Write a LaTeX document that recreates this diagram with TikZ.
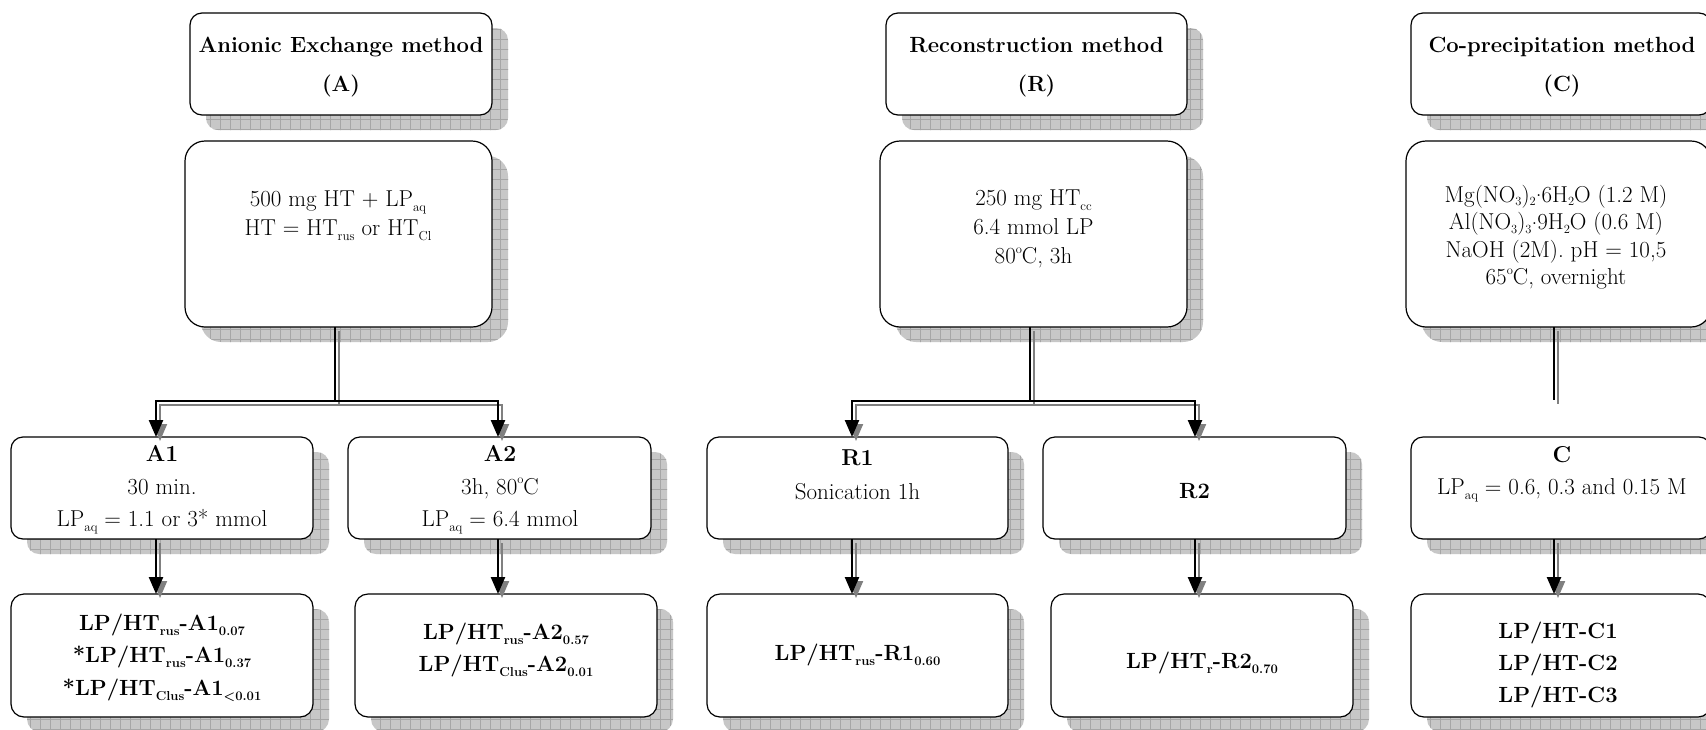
\documentclass[tikz,border=0pt]{standalone}
\usetikzlibrary{arrows.meta,patterns.meta}
\newcommand\sbs[1]{\raisebox{-0.22em}{\fontsize{13}{13}\selectfont #1}}
\newcommand\sbc[1]{\raisebox{-0.16em}{\fontsize{12.5}{12.5}\selectfont #1}}
\newcommand\dg{\raisebox{0.45em}{\fontsize{12.5}{12.5}\selectfont o}}
\newcommand\md{\raisebox{0.22em}{.}}
\newcommand\conn[2]{\draw[gcon,#1] #2; \draw[con,#1] #2;}
\tikzset{
  bx/.style={draw, line width=1.2pt, fill=white, inner sep=0pt, outer sep=0pt, rounded corners=#1,
    preaction={draw=none, fill=black!22, transform canvas={shift={(16pt,-15pt)}}},
    preaction={draw=none, pattern={Hatch[distance=10pt, line width=0.6pt]}, pattern color=black!35,
               transform canvas={shift={(16pt,-15pt)}}}},
  rg/.style={font=\fontsize{23}{#1}\selectfont, align=center, inner sep=0pt},
  bd/.style={font=\fontsize{22}{#1}\selectfont\bfseries, align=center, inner sep=0pt},
  con/.style={draw=black, line width=2.4pt},
  gcon/.style={draw=black!50, line width=2pt, transform canvas={shift={(4pt,-4pt)}}},
  >={Triangle[length=17pt,width=14pt]}
}
\begin{document}
\begin{tikzpicture}[x=1pt,y=-1pt]
\useasboundingbox (0,0) rectangle (1706,729);
\fill[white] (0,0) rectangle (1706,729);

% ---------- boxes ----------
\node[bx=12pt, minimum width=302pt, minimum height=102pt] (TA) at (341,64) {};
\node[bx=20pt, minimum width=307pt, minimum height=186pt] (PA) at (338.5,234) {};
\node[bx=12pt, minimum width=302pt, minimum height=102pt] (A1) at (162,488) {};
\node[bx=12pt, minimum width=303pt, minimum height=102pt] (A2) at (499.5,488) {};
\node[bx=13pt, minimum width=302pt, minimum height=123pt] (RA1) at (162,655.5) {};
\node[bx=13pt, minimum width=302pt, minimum height=123pt] (RA2) at (506,655.5) {};

\node[bx=12pt, minimum width=301pt, minimum height=102pt] (TR) at (1036.5,64) {};
\node[bx=20pt, minimum width=307pt, minimum height=186pt] (PR) at (1033.5,234) {};
\node[bx=12pt, minimum width=301pt, minimum height=102pt] (R1) at (857.5,488) {};
\node[bx=12pt, minimum width=303pt, minimum height=102pt] (R2) at (1194.5,488) {};
\node[bx=13pt, minimum width=301pt, minimum height=123pt] (RR1) at (857.5,655.5) {};
\node[bx=13pt, minimum width=302pt, minimum height=123pt] (RR2) at (1202,655.5) {};

\node[bx=12pt, minimum width=300pt, minimum height=102pt] (TC) at (1561,64) {};
\node[bx=20pt, minimum width=305pt, minimum height=186pt] (PC) at (1558.5,234) {};
\node[bx=12pt, minimum width=300pt, minimum height=102pt] (C) at (1561,488) {};
\node[bx=13pt, minimum width=300pt, minimum height=123pt] (RC) at (1561,655.5) {};

% ---------- texts ----------
\node[bd=39pt] (TAt) at (341,67.5) {Anionic Exchange method\\(A)};
\node[rg=29pt] (PAt) at (338,215.5) {500 mg HT + LP\sbs{aq}\\HT = HT\sbs{rus} or HT\sbs{Cl}};
\node[rg=32.5pt] (A1t) at (162,490) {{\bfseries A1}\\30 min.\\LP\sbs{aq} = 1.1 or 3* mmol};
\node[rg=32.5pt] (A2t) at (500,490) {{\bfseries A2}\\3h, 80\dg C\\LP\sbs{aq} = 6.4 mmol};
\node[bd=32.5pt] (RA1t) at (162,657.5) {LP/HT\sbs{rus}-A1\sbs{0.07}\\{}*LP/HT\sbs{rus}-A1\sbs{0.37}\\{}*LP/HT\sbs{Clus}-A1\sbs{<0.01}};
\node[bd=32pt] (RA2t) at (506,650) {LP/HT\sbs{rus}-A2\sbs{0.57}\\LP/HT\sbs{Clus}-A2\sbs{0.01}};

\node[bd=39pt] (TRt) at (1036.5,67.5) {Reconstruction method\\(R)};
\node[rg=29pt] (PRt) at (1033.5,229) {250 mg HT\sbs{cc}\\6.4 mmol LP\\80\dg C, 3h};
\node[rg=34pt] (R1t) at (857.5,475) {{\bfseries R1}\\Sonication 1h};
\node[bd=30pt] (R2t) at (1194.5,491) {R2};
\node[bd=30pt] (RR1t) at (857.5,655) {LP/HT\sbs{rus}-R1\sbs{0.60}};
\node[bd=30pt] (RR2t) at (1202,663) {LP/HT\sbs{r}-R2\sbs{0.70}};

\node[bd=39pt] (TCt) at (1562,67.5) {Co-precipitation method\\(C)};
\node[rg=27.5pt] (PCt) at (1556,237) {Mg(NO\sbc{3})\sbc{2}\md 6H\sbc{2}O (1.2 M)\\Al(NO\sbc{3})\sbc{3}\md 9H\sbc{2}O (0.6 M)\\NaOH (2M). pH = 10,5\\65\dg C, overnight};
\node[rg=32pt] (Ct) at (1562,474) {{\bfseries C}\\LP\sbs{aq} = 0.6, 0.3 and 0.15 M};
\node[bd=32pt] (RCt) at (1558,665) {LP/HT-C1\\LP/HT-C2\\LP/HT-C3};

% ---------- connectors ----------
\coordinate (jA) at (335,401);
\coordinate (a1) at (156,401);
\coordinate (a2) at (498,401);
\coordinate (jR) at (1030,401);
\coordinate (r1) at (852,401);
\coordinate (r2) at (1195,401);
\coordinate (cEnd) at (1554,400);

\conn{}{(PA.south -| jA) -- (jA)}
\conn{<->}{(a1 |- A1.north) -- (a1) -- (a2) -- (a2 |- A2.north)}
\conn{->}{(A1.south -| a1) -- (a1 |- RA1.north)}
\conn{->}{(A2.south -| a2) -- (a2 |- RA2.north)}

\conn{}{(PR.south -| jR) -- (jR)}
\conn{<->}{(r1 |- R1.north) -- (r1) -- (r2) -- (r2 |- R2.north)}
\conn{->}{(R1.south -| r1) -- (r1 |- RR1.north)}
\conn{->}{(R2.south -| r2) -- (r2 |- RR2.north)}

\conn{}{(PC.south -| cEnd) -- (cEnd)}
\conn{->}{(C.south -| cEnd) -- (cEnd |- RC.north)}
\end{tikzpicture}
\end{document}
